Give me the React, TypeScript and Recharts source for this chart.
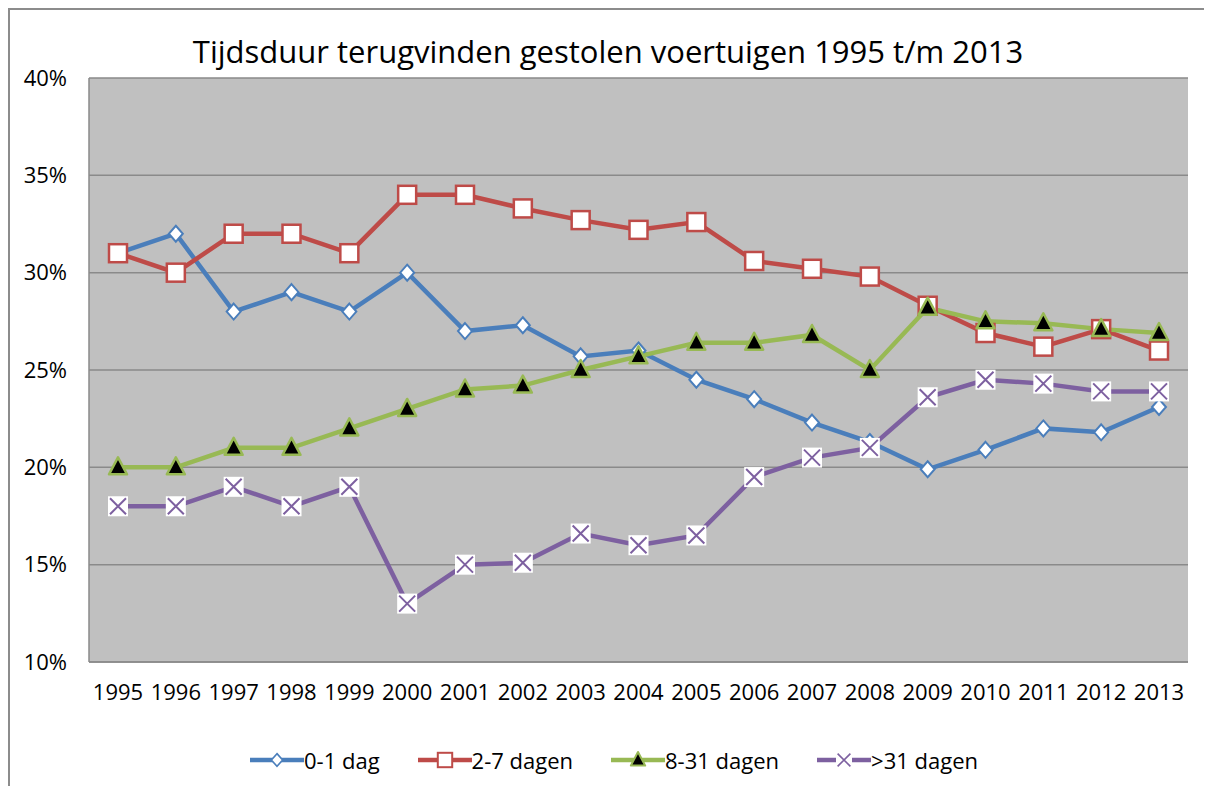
import React from 'react';
import { LineChart, Line, XAxis, YAxis, CartesianGrid, Legend } from 'recharts';

const years = ['1995', '1996', '1997', '1998', '1999', '2000', '2001', '2002', '2003', '2004', '2005', '2006', '2007', '2008', '2009', '2010', '2011', '2012', '2013'];
const dag0_1 = [31, 32, 28, 29, 28, 30, 27, 27.3, 25.7, 26.0, 24.5, 23.5, 22.3, 21.3, 19.9, 20.9, 22.0, 21.8, 23.1];
const dagen2_7 = [31, 30, 32, 32, 31, 34, 34, 33.3, 32.7, 32.2, 32.6, 30.6, 30.2, 29.8, 28.3, 26.9, 26.2, 27.1, 26.0];
const dagen8_31 = [20, 20, 21, 21, 22, 23, 24, 24.2, 25.0, 25.7, 26.4, 26.4, 26.8, 25.0, 28.2, 27.5, 27.4, 27.1, 26.9];
const dagen31plus = [18, 18, 19, 18, 19, 13, 15, 15.1, 16.6, 16.0, 16.5, 19.5, 20.5, 21.0, 23.6, 24.5, 24.3, 23.9, 23.9];
const yTicks = [10, 15, 20, 25, 30, 35, 40];

const chartData = years.map((year, i) => ({
  year,
  a: dag0_1[i],
  b: dagen2_7[i],
  c: dagen8_31[i],
  d: dagen31plus[i],
}));

const FONT = '"Open Sans", sans-serif';
const BLUE = '#4a7ebb';
const RED = '#be4b48';
const GREEN = '#98b954';
const PURPLE = '#7d60a0';

// keep the page inside 1212x794 so no scrollbar shows up
const W = 1196;
const H = 776;

// marker shapes, roughly like the Excel ones
const Diamond = ({ cx, cy }: any) => (
  <path d={`M${cx},${cy - 8} L${cx + 7},${cy} L${cx},${cy + 8} L${cx - 7},${cy} Z`} fill="#fff" stroke={BLUE} strokeWidth={2} />
);
const Square = ({ cx, cy }: any) => (
  <rect x={cx - 9} y={cy - 9} width={18} height={18} fill="#fff" stroke={RED} strokeWidth={2.5} />
);
const Triangle = ({ cx, cy }: any) => (
  <path d={`M${cx},${cy - 10} L${cx + 9},${cy + 7} L${cx - 9},${cy + 7} Z`} fill="#000" stroke={GREEN} strokeWidth={2.5} strokeLinejoin="round" />
);
const Cross = ({ cx, cy }: any) => (
  <g>
    <rect x={cx - 10} y={cy - 10} width={20} height={20} fill="#fff" />
    <path d={`M${cx - 8},${cy - 8} L${cx + 8},${cy + 8} M${cx + 8},${cy - 8} L${cx - 8},${cy + 8}`} stroke={PURPLE} strokeWidth={2} />
  </g>
);

const legendItems = [
  { label: '0-1 dag', color: BLUE, Marker: Diamond },
  { label: '2-7 dagen', color: RED, Marker: Square },
  { label: '8-31 dagen', color: GREEN, Marker: Triangle },
  { label: '>31 dagen', color: PURPLE, Marker: Cross },
];

const renderLegend = () => (
  <div style={{ display: 'flex', justifyContent: 'center', alignItems: 'center', height: 40, gap: 38, fontFamily: FONT, fontSize: 22, color: '#000', paddingLeft: 30 }}>
    {legendItems.map(({ label, color, Marker }) => (
      <div key={label} style={{ display: 'flex', alignItems: 'center' }}>
        <svg width={54} height={24}>
          <line x1={0} y1={12} x2={54} y2={12} stroke={color} strokeWidth={4.5} />
          <g transform="scale(0.8) translate(6.75,3)">
            <Marker cx={27} cy={12} />
          </g>
        </svg>
        <span>{label}</span>
      </div>
    ))}
  </div>
);

export default function App() {
  return (
    <div style={{ position: 'relative', width: 1202, height: H, borderLeft: '2px solid #8c8c8c', borderTop: '2px solid #8c8c8c', background: '#fff', overflow: 'hidden' }}>
      <style>{'html, body { overflow: hidden; }'}</style>
      <div style={{ position: 'absolute', top: 20, left: 0, width: W, textAlign: 'center', fontFamily: FONT, fontSize: 31, color: '#000' }}>
        Tijdsduur terugvinden gestolen voertuigen 1995 t/m 2013
      </div>
      <LineChart width={W} height={H} data={chartData} margin={{ top: 68, right: W - 1178, left: 0, bottom: 6 }}>
        <CartesianGrid vertical={false} fill="#c0c0c0" stroke="#8a8a8a" strokeWidth={1.5} />
        <XAxis
          dataKey="year"
          height={78}
          padding={{ left: 29, right: 29 }}
          tickLine={false}
          axisLine={{ stroke: '#8a8a8a', strokeWidth: 1.5 }}
          tickSize={0}
          tickMargin={22}
          tick={{ fontFamily: FONT, fontSize: 22, fill: '#000' }}
          interval={0}
        />
        <YAxis
          width={79}
          domain={[10, 40]}
          ticks={yTicks}
          tickFormatter={(v: number) => `${v}%`}
          tickLine={false}
          axisLine={{ stroke: '#8a8a8a', strokeWidth: 1.5 }}
          tickSize={0}
          tickMargin={22}
          tick={{ fontFamily: FONT, fontSize: 22, fill: '#000' }}
        />
        <Legend verticalAlign="bottom" content={renderLegend} />
        <Line dataKey="a" name="0-1 dag" stroke={BLUE} strokeWidth={4.5} dot={<Diamond />} isAnimationActive={false} />
        <Line dataKey="b" name="2-7 dagen" stroke={RED} strokeWidth={4.5} dot={<Square />} isAnimationActive={false} />
        <Line dataKey="c" name="8-31 dagen" stroke={GREEN} strokeWidth={4.5} dot={<Triangle />} isAnimationActive={false} />
        <Line dataKey="d" name=">31 dagen" stroke={PURPLE} strokeWidth={4.5} dot={<Cross />} isAnimationActive={false} />
      </LineChart>
    </div>
  );
}
